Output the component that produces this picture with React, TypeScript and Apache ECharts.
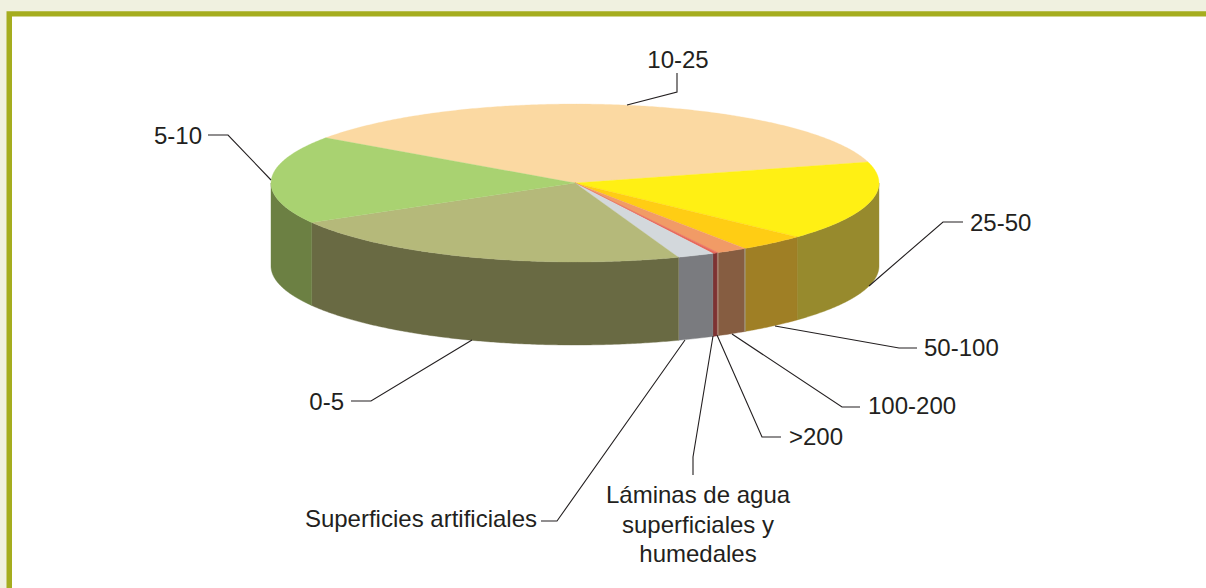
import React, { useEffect, useRef } from "react";
import * as echarts from "echarts";

const categories = ["10-25", "25-50", "50-100", "100-200", ">200", "Láminas de agua\nsuperficiales y\nhumedales", "Superficies artificiales", "0-5", "5-10"];
const shares = [36.03, 16.25, 3.6, 1.64, 0.07, 0.24, 1.97, 22.2, 18.03];
const topColors = ["#fbd9a2", "#fff014", "#ffcd14", "#f19b66", "#e8685a", "#e8685a", "#d3d8dc", "#b5b97a", "#a9d271"];
const sideColors = ["#8f7f55", "#978a2d", "#9f7f25", "#865d41", "#b08a78", "#7e3232", "#7a7b7f", "#696a43", "#6c8043"];

const CX = 575, CY = 183, RX = 304, RY = 79, DEPTH = 83;
const START_DEG = 214.9;

// Leader lines and label anchors, one per category
const leaders = [
  [[627, 105], [677, 92], [677, 73]],
  [[869, 286], [943, 222], [963, 222]],
  [[775, 326], [899, 348], [917, 348]],
  [[732, 334], [842, 407], [860, 407]],
  [[717, 335], [762, 437], [781, 437]],
  [[713, 336], [693, 457], [693, 475]],
  [[685, 340], [557, 521], [541, 521]],
  [[472, 340], [371, 401], [351, 401]],
  [[271, 180], [228, 135], [208, 135]],
];
const labelAnchors: [number, number, string][] = [
  [678, 59, "center"],
  [970, 222, "left"],
  [924, 347, "left"],
  [868, 405, "left"],
  [789, 436, "left"],
  [698, 524, "center"],
  [537, 518, "right"],
  [344, 401, "right"],
  [202, 135, "right"],
];

const rim = (deg: number, dy = 0): number[] => {
  const t = (deg * Math.PI) / 180;
  return [CX + RX * Math.cos(t), CY + dy + RY * Math.sin(t)];
};

const arcPoints = (a0: number, a1: number, dy = 0): number[][] => {
  const n = Math.max(2, Math.ceil(Math.abs(a1 - a0) * 2));
  const out: number[][] = [];
  for (let i = 0; i <= n; i++) out.push(rim(a0 + ((a1 - a0) * i) / n, dy));
  return out;
};

const total = shares.reduce((a, b) => a + b, 0);
const startOf = (i: number) =>
  START_DEG + (shares.slice(0, i).reduce((a, b) => a + b, 0) / total) * 360;

const seam = (deg: number) => {
  const [x1, y1] = rim(deg);
  const [x2, y2] = rim(deg, DEPTH);
  return {
    type: "line",
    shape: { x1, y1, x2, y2 },
    style: { stroke: "#aaa893", lineWidth: 1 },
  };
};

const renderSlice = (params: any, api: any) => {
  const i = params.dataIndex;
  const a0 = startOf(i);
  const a1 = a0 + (api.value(0) / total) * 360;
  const children: any[] = [];
  // Front wall: visible only where the rim runs along the lower half of the ellipse
  for (const k of [0, 360]) {
    const s = Math.max(a0, k);
    const e = Math.min(a1, k + 180);
    if (e > s) {
      const pts = [...arcPoints(s, e), ...arcPoints(e, s, DEPTH)];
      children.push({
        type: "polygon",
        shape: { points: pts },
        style: { fill: sideColors[i], stroke: sideColors[i], lineWidth: 0.4 },
      });
    }
  }
  if (categories[i] === "Superficies artificiales") children.push(seam(a1));
  if (categories[i] === "100-200") children.push(seam(a0));
  children.push({
    type: "polygon",
    shape: { points: [[CX, CY], ...arcPoints(a0, a1)] },
    style: { fill: topColors[i], stroke: topColors[i], lineWidth: 0.3 },
  });
  return { type: "group", children };
};

const renderLabel = (params: any) => {
  const i = params.dataIndex;
  const [x, y, align] = labelAnchors[i];
  return {
    type: "group",
    children: [
      {
        type: "polyline",
        shape: { points: leaders[i] },
        style: { fill: "none", stroke: "#231f20", lineWidth: 1.1 },
      },
      {
        type: "text",
        x,
        y,
        style: {
          text: categories[i],
          fill: "#231f20",
          font: '24px "Liberation Sans", Arial, sans-serif',
          align,
          verticalAlign: "middle",
          lineHeight: 29.5,
        },
      },
    ],
  };
};

export default function App() {
  const ref = useRef<HTMLDivElement>(null);
  useEffect(() => {
    document.body.style.margin = "0";
    const chart = echarts.init(ref.current!, null, { renderer: "svg" });
    chart.setOption({
      animation: false,
      backgroundColor: "#f0f1e0",
      graphic: [
        { type: "rect", z: -2, shape: { x: 6.5, y: 11.3, width: 1200, height: 577 }, style: { fill: "#a5ad1e" } },
        { type: "rect", z: -1, shape: { x: 12, y: 16.5, width: 1194, height: 572 }, style: { fill: "#ffffff" } },
      ],
      series: [
        {
          type: "custom",
          coordinateSystem: "none",
          renderItem: renderSlice,
          data: shares.map((v, i) => ({ name: categories[i], value: [v] })),
          silent: true,
        },
        {
          type: "custom",
          coordinateSystem: "none",
          renderItem: renderLabel,
          data: shares.map((v, i) => ({ name: categories[i], value: [v] })),
          silent: true,
        },
      ],
    });
    return () => chart.dispose();
  }, []);
  return <div ref={ref} style={{ width: 1206, height: 588 }} />;
}
